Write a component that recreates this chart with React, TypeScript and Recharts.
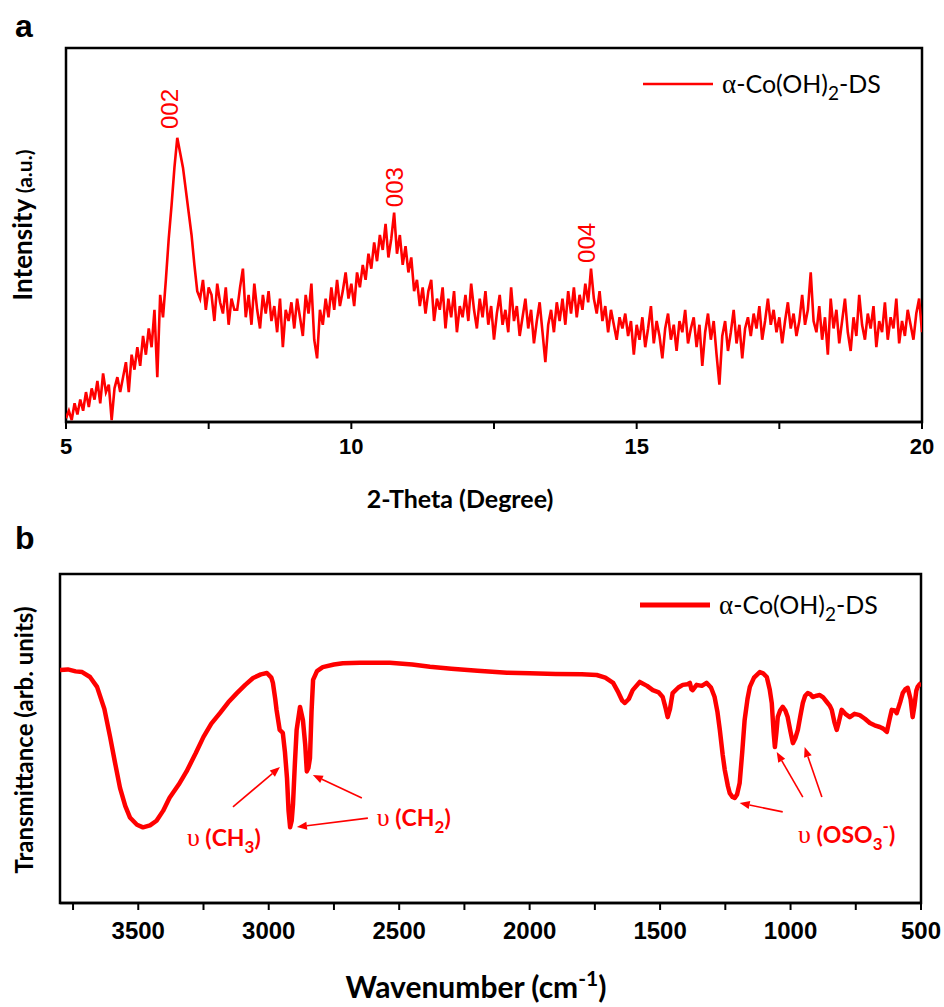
import React from "react";
import {
  LineChart,
  Line,
  XAxis,
  YAxis,
  ReferenceArea,
  ReferenceLine,
  ReferenceDot,
} from "recharts";

const RED = "#ff0000";
const TICK_FONT = "'Liberation Sans', Arial, sans-serif";
const LABEL_FONT = "Lato, 'Open Sans', sans-serif";
const GREEK_FONT = "'Liberation Serif', 'DejaVu Serif', serif";

// ---- panel a : XRD ----
const twoTheta = [
  5.0, 5.05, 5.1, 5.15, 5.2, 5.25, 5.3, 5.35, 5.4, 5.45, 5.5, 5.55, 5.6, 5.65, 5.7, 5.75, 5.8, 5.85, 5.9, 5.95,
  6.0, 6.05, 6.1, 6.15, 6.2, 6.25, 6.3, 6.35, 6.4, 6.45, 6.5, 6.55, 6.6, 6.65, 6.7, 6.75, 6.8, 6.85, 6.9, 6.95,
  7.0, 7.05, 7.1, 7.15, 7.2, 7.25, 7.3, 7.35, 7.4, 7.45, 7.5, 7.55, 7.6, 7.65, 7.7, 7.75, 7.8, 7.85, 7.9, 7.95,
  8.0, 8.05, 8.1, 8.15, 8.2, 8.25, 8.3, 8.35, 8.4, 8.45, 8.5, 8.55, 8.6, 8.65, 8.7, 8.75, 8.8, 8.85, 8.9, 8.95,
  9.0, 9.05, 9.1, 9.15, 9.2, 9.25, 9.3, 9.35, 9.4, 9.45, 9.5, 9.55, 9.6, 9.65, 9.7, 9.75, 9.8, 9.85, 9.9, 9.95,
  10.0, 10.05, 10.1, 10.15, 10.2, 10.25, 10.3, 10.35, 10.4, 10.45, 10.5, 10.55, 10.6, 10.65, 10.7, 10.75, 10.8, 10.85, 10.9, 10.95,
  11.0, 11.05, 11.1, 11.15, 11.2, 11.25, 11.3, 11.35, 11.4, 11.45, 11.5, 11.55, 11.6, 11.65, 11.7, 11.75, 11.8, 11.85, 11.9, 11.95,
  12.0, 12.05, 12.1, 12.15, 12.2, 12.25, 12.3, 12.35, 12.4, 12.45, 12.5, 12.55, 12.6, 12.65, 12.7, 12.75, 12.8, 12.85, 12.9, 12.95,
  13.0, 13.05, 13.1, 13.15, 13.2, 13.25, 13.3, 13.35, 13.4, 13.45, 13.5, 13.55, 13.6, 13.65, 13.7, 13.75, 13.8, 13.85, 13.9, 13.95,
  14.0, 14.05, 14.1, 14.15, 14.2, 14.25, 14.3, 14.35, 14.4, 14.45, 14.5, 14.55, 14.6, 14.65, 14.7, 14.75, 14.8, 14.85, 14.9, 14.95,
  15.0, 15.05, 15.1, 15.15, 15.2, 15.25, 15.3, 15.35, 15.4, 15.45, 15.5, 15.55, 15.6, 15.65, 15.7, 15.75, 15.8, 15.85, 15.9, 15.95,
  16.0, 16.05, 16.1, 16.15, 16.2, 16.25, 16.3, 16.35, 16.4, 16.45, 16.5, 16.55, 16.6, 16.65, 16.7, 16.75, 16.8, 16.85, 16.9, 16.95,
  17.0, 17.05, 17.1, 17.15, 17.2, 17.25, 17.3, 17.35, 17.4, 17.45, 17.5, 17.55, 17.6, 17.65, 17.7, 17.75, 17.8, 17.85, 17.9, 17.95,
  18.0, 18.05, 18.1, 18.15, 18.2, 18.25, 18.3, 18.35, 18.4, 18.45, 18.5, 18.55, 18.6, 18.65, 18.7, 18.75, 18.8, 18.85, 18.9, 18.95,
  19.0, 19.05, 19.1, 19.15, 19.2, 19.25, 19.3, 19.35, 19.4, 19.45, 19.5, 19.55, 19.6, 19.65, 19.7, 19.75, 19.8, 19.85, 19.9, 19.95,
  20.0,
];

const xrdIntensity = [
  1, 3, 0.5, 5, 2, 6, 3, 8, 4, 9, 6, 11, 5, 13, 8, 10, 0.5, 9, 12, 8,
  12, 16, 8, 18, 14, 20, 15, 23, 18, 25, 20, 30, 12, 34, 28, 38, 49, 58, 68, 76,
  72, 68, 62, 56, 50, 42, 35, 33, 38, 30, 36, 34, 27, 37, 32, 29, 36, 26, 33, 30,
  30, 36, 41, 28, 34, 26, 37, 30, 25, 34, 29, 35, 27, 31, 24, 33, 20, 30, 27, 32,
  25, 33, 28, 23, 34, 29, 37, 22, 17, 30, 26, 33, 28, 36, 30, 38, 31, 35, 40, 33,
  37, 31, 40, 36, 42, 38, 45, 41, 48, 43, 50, 46, 53, 44, 49, 56, 45, 50, 42, 47,
  40, 44, 35, 38, 31, 36, 29, 35, 38, 27, 33, 30, 36, 25, 33, 28, 35, 24, 31, 28,
  34, 27, 37, 30, 25, 33, 28, 35, 26, 31, 22, 29, 34, 26, 30, 24, 36, 27, 31, 23,
  28, 33, 25, 30, 21, 27, 32, 24, 16, 26, 30, 24, 32, 27, 33, 26, 35, 29, 36, 28,
  34, 30, 37, 32, 41, 33, 29, 35, 27, 31, 24, 30, 26, 22, 28, 25, 29, 23, 27, 18,
  26, 22, 28, 20, 25, 31, 21, 27, 23, 17, 25, 29, 22, 26, 19, 27, 24, 30, 21, 25,
  28, 20, 26, 15, 24, 29, 22, 27, 18, 10, 23, 27, 19, 24, 30, 21, 26, 17, 25, 28,
  23, 29, 25, 31, 22, 27, 33, 26, 30, 24, 28, 21, 27, 32, 25, 29, 23, 27, 34, 26,
  30, 40, 27, 24, 31, 22, 28, 18, 33, 25, 30, 21, 27, 33, 24, 19, 28, 23, 34, 26,
  22, 29, 25, 31, 20, 27, 24, 32, 22, 28, 25, 33, 21, 27, 23, 30, 26, 22, 29, 33,
  24,
];

const xrdTicks = [5, 7.5, 10, 12.5, 15, 17.5, 20];

const peakNames = ["002", "003", "004"];
const peakX = [6.82, 10.75, 14.12];
const peakY = [83.7, 62.8, 47.9];

// ---- panel b : FTIR ----
const wavenumber = [
  3800, 3770, 3740, 3715, 3685, 3658, 3630, 3608, 3590, 3570, 3550, 3532, 3505, 3482, 3455, 3430,
  3405, 3380, 3345, 3315, 3280, 3250, 3220, 3187, 3155, 3122, 3090, 3060, 3030, 3007, 2990, 2984,
  2975, 2970, 2958, 2946, 2938, 2930, 2924, 2918, 2912, 2907, 2900, 2893, 2880, 2869, 2860, 2854,
  2848, 2842, 2836, 2830, 2815, 2793, 2750, 2716, 2650, 2536, 2450, 2382, 2300, 2200, 2087, 2000,
  1900, 1800, 1743, 1710, 1680, 1660, 1645, 1635, 1620, 1605, 1578, 1550, 1528, 1505, 1490, 1478,
  1471, 1462, 1452, 1430, 1413, 1395, 1386, 1380, 1375, 1360, 1340, 1322, 1305, 1291, 1280, 1271,
  1260, 1252, 1240, 1233, 1222, 1214, 1205, 1195, 1185, 1176, 1165, 1156, 1140, 1118, 1105, 1091,
  1080, 1072, 1065, 1060, 1054, 1049, 1040, 1030, 1020, 1011, 1000, 991, 982, 972, 962, 953,
  944, 934, 925, 915, 900, 888, 875, 861, 850, 842, 832, 823, 815, 804, 790, 773,
  755, 735, 715, 696, 678, 658, 645, 631, 620, 612, 600, 593, 580, 570, 560, 551,
  540, 532, 525, 518, 513, 505, 500,
];

const transmittance = [
  70.8, 71.0, 70.4, 70.2, 68.7, 65.7, 59, 50.5, 43, 35, 29.5, 26, 23.8, 23, 23.6, 25,
  28, 32, 36, 40, 45.5, 50.5, 54.5, 57.7, 61, 63.8, 66.3, 68.4, 69.5, 69.9, 68.5, 66.9,
  62, 58.7, 52.6, 51.7, 46, 38, 28, 23, 25, 30, 42, 52.6, 59.6, 55.6, 48, 40,
  41, 44, 58, 67.8, 70.5, 71.7, 72.5, 72.9, 73, 73, 72.5, 71.8, 71.2, 70.6, 70, 69.8,
  69.6, 69.5, 69.3, 68.5, 66.9, 64, 61.5, 60.8, 62, 64.7, 67.2, 66, 64.7, 64, 62.6, 59,
  56.5, 59, 63.8, 65.5, 66.3, 66.5, 66.9, 65, 64.7, 66.3, 66, 66.9, 65.5, 62.6, 58, 52.6,
  45, 40.4, 35.5, 33.4, 32.2, 31.9, 33, 36.5, 46, 55.6, 62, 65.7, 68.5, 70.2, 69.8, 68.7,
  65, 60.8, 52, 47.4, 52, 56.5, 58.5, 59.6, 58.5, 56.5, 52, 48.6, 50, 52.6, 57, 60.8,
  63, 63.8, 63.5, 62.6, 63, 63.2, 62.5, 61.1, 60, 58.7, 55, 52.6, 55, 58.7, 57.5, 56.5,
  57.5, 57.1, 56, 54.7, 54, 53.5, 53, 52, 56, 58.7, 58.5, 57.7, 61, 63.8, 65, 65.4,
  62, 56.5, 60, 64.5, 65.7, 66.5, 66.9,
];

const irTicks = [3750, 3500, 3250, 3000, 2750, 2500, 2250, 2000, 1750, 1500, 1250, 1000, 750, 500];

const bandText = ["(CH", "(CH", "(OSO"];
const bandSub = ["3", "2", "3"];
const bandSup = ["", "", "-"];
const bandX = [3172, 2444, 785];
const bandY = [19.8, 25.8, 20.7];

// arrows: tail -> head, in (wavenumber, transmittance)
const arrowFromX = [3137, 2620, 2643, 1030, 953, 880];
const arrowFromY = [29.2, 25.8, 31.9, 27.7, 32.2, 32.2];
const arrowToX = [2957, 2892, 2831, 1195, 1053, 946];
const arrowToY = [41.3, 23.1, 38.9, 30.4, 45.9, 47.4];

const xrdData = twoTheta.map((x, i) => ({ x, y: xrdIntensity[i] }));
const irData = wavenumber.map((x, i) => ({ x, y: transmittance[i] }));

const Arrow = (p: any) => {
  const { x1, y1, x2, y2 } = p;
  const ang = Math.atan2(y2 - y1, x2 - x1);
  const len = 10;
  const half = 4;
  const bx = x2 - len * Math.cos(ang);
  const by = y2 - len * Math.sin(ang);
  const px = -Math.sin(ang) * half;
  const py = Math.cos(ang) * half;
  return (
    <g>
      <line x1={x1} y1={y1} x2={bx} y2={by} stroke={RED} strokeWidth={1.6} />
      <polygon
        points={`${x2},${y2} ${bx + px},${by + py} ${bx - px},${by - py}`}
        fill={RED}
      />
    </g>
  );
};

const tickStyle = (size: number) => ({
  fill: "#000",
  fontSize: size,
  fontWeight: 700,
  fontFamily: TICK_FONT,
});

const LegendEntry = ({ x, y, thick }: { x: number; y: number; thick: number }) => (
  <g>
    <line x1={x} y1={y} x2={x + 70} y2={y} stroke={RED} strokeWidth={thick} />
    <text x={x + 79} y={y + 9} fontSize={25} fontFamily={LABEL_FONT} fill="#000">
      <tspan fontFamily={GREEK_FONT} fontSize={27}>α</tspan>
      <tspan>-Co(OH)</tspan>
      <tspan fontSize={19} dy={7}>2</tspan>
      <tspan dy={-7}>-DS</tspan>
    </text>
  </g>
);

export default function App() {
  return (
    <div
      style={{
        position: "absolute",
        left: 0,
        top: 0,
        width: 944,
        height: 1007,
        background: "#fff",
      }}
    >
      <div style={{ position: "absolute", left: 0, top: 0 }}>
        <LineChart
          width={944}
          height={530}
          data={xrdData}
          margin={{ top: 48, right: 22, bottom: 78, left: 66 }}
        >
          <XAxis
            type="number"
            dataKey="x"
            domain={[5, 20]}
            ticks={xrdTicks}
            interval={0}
            allowDataOverflow
            height={30}
            tickFormatter={(v: number) => (v % 5 === 0 ? String(v) : "")}
            tickSize={7}
            tickMargin={9}
            axisLine={{ stroke: "#000", strokeWidth: 2.5 }}
            tickLine={{ stroke: "#000", strokeWidth: 2 }}
            tick={tickStyle(22)}
          />
          <YAxis type="number" domain={[0, 100]} hide allowDataOverflow />
          <ReferenceArea
            x1={5}
            x2={20}
            y1={0}
            y2={100}
            fill="none"
            fillOpacity={0}
            stroke="#000"
            strokeWidth={2.5}
            ifOverflow="visible"
          />
          <Line
            type="linear"
            dataKey="y"
            stroke={RED}
            strokeWidth={2.6}
            dot={false}
            isAnimationActive={false}
          />
          {peakNames.map((name, i) => (
            <ReferenceDot
              key={name}
              x={peakX[i]}
              y={peakY[i]}
              r={0}
              ifOverflow="visible"
              shape={(p: any) => (
                <text
                  x={p.cx}
                  y={p.cy}
                  transform={`rotate(-90 ${p.cx} ${p.cy})`}
                  textAnchor="middle"
                  dominantBaseline="central"
                  fill={RED}
                  fontSize={24}
                  fontFamily={TICK_FONT}
                >
                  {name}
                </text>
              )}
            />
          ))}
        </LineChart>
      </div>

      <div style={{ position: "absolute", left: 0, top: 530 }}>
        <LineChart
          width={944}
          height={477}
          data={irData}
          margin={{ top: 44, right: 23, bottom: 74, left: 60 }}
        >
          <XAxis
            type="number"
            dataKey="x"
            domain={[500, 3800]}
            reversed
            ticks={irTicks}
            interval={0}
            allowDataOverflow
            height={30}
            tickFormatter={(v: number) => (v % 500 === 0 ? String(v) : "")}
            tickSize={7}
            tickMargin={12}
            axisLine={{ stroke: "#000", strokeWidth: 2.5 }}
            tickLine={{ stroke: "#000", strokeWidth: 2 }}
            tick={tickStyle(24)}
          />
          <YAxis type="number" domain={[0, 100]} hide allowDataOverflow />
          <ReferenceArea
            x1={500}
            x2={3800}
            y1={0}
            y2={100}
            fill="none"
            fillOpacity={0}
            stroke="#000"
            strokeWidth={2.5}
            ifOverflow="visible"
          />
          <Line
            type="linear"
            dataKey="y"
            stroke={RED}
            strokeWidth={4.5}
            strokeLinejoin="round"
            dot={false}
            isAnimationActive={false}
          />
          {arrowFromX.map((fx, i) => (
            <ReferenceLine
              key={`arrow-${i}`}
              segment={[
                { x: fx, y: arrowFromY[i] },
                { x: arrowToX[i], y: arrowToY[i] },
              ]}
              ifOverflow="visible"
              shape={Arrow}
            />
          ))}
          {bandText.map((t, i) => (
            <ReferenceDot
              key={`band-${i}`}
              x={bandX[i]}
              y={bandY[i]}
              r={0}
              ifOverflow="visible"
              shape={(p: any) => (
                <text
                  x={p.cx}
                  y={p.cy + 8}
                  textAnchor="middle"
                  fill={RED}
                  fontSize={23}
                  fontWeight={700}
                  fontFamily={LABEL_FONT}
                >
                  <tspan fontFamily={GREEK_FONT} fontWeight={400} fontSize={26}>υ</tspan>
                  <tspan> {t}</tspan>
                  <tspan fontSize={17} dy={7}>{bandSub[i]}</tspan>
                  {bandSup[i] ? (
                    <tspan fontSize={17} dy={-18}>{bandSup[i]}</tspan>
                  ) : null}
                  <tspan dy={bandSup[i] ? 11 : -7}>)</tspan>
                </text>
              )}
            />
          ))}
        </LineChart>
      </div>

      <svg
        width={944}
        height={1007}
        style={{ position: "absolute", left: 0, top: 0, pointerEvents: "none" }}
      >
        <text x={15} y={37} fontSize={32} fontWeight={700} fontFamily={TICK_FONT} fill="#000">
          a
        </text>
        <text x={15} y={549} fontSize={32} fontWeight={700} fontFamily={TICK_FONT} fill="#000">
          b
        </text>

        <text
          x={32}
          y={225}
          transform="rotate(-90 32 225)"
          textAnchor="middle"
          fontSize={26}
          fontWeight={700}
          fontFamily={LABEL_FONT}
          fill="#000"
        >
          Intensity <tspan fontSize={21}>(a.u.)</tspan>
        </text>
        <text
          x={33}
          y={740}
          transform="rotate(-90 33 740)"
          textAnchor="middle"
          fontSize={24}
          fontWeight={700}
          fontFamily={LABEL_FONT}
          fill="#000"
        >
          Transmittance (arb. units)
        </text>

        <text
          x={460}
          y={508}
          textAnchor="middle"
          fontSize={25}
          fontWeight={700}
          fontFamily={LABEL_FONT}
          fill="#000"
        >
          2-Theta (Degree)
        </text>
        <text
          x={476}
          y={998}
          textAnchor="middle"
          fontSize={30}
          fontWeight={700}
          fontFamily={LABEL_FONT}
          fill="#000"
        >
          Wavenumber (cm
          <tspan fontSize={21} dy={-12}>-1</tspan>
          <tspan dy={12}>)</tspan>
        </text>

        <LegendEntry x={643} y={84} thick={2.5} />
        <LegendEntry x={640} y={605} thick={5} />
      </svg>
    </div>
  );
}
